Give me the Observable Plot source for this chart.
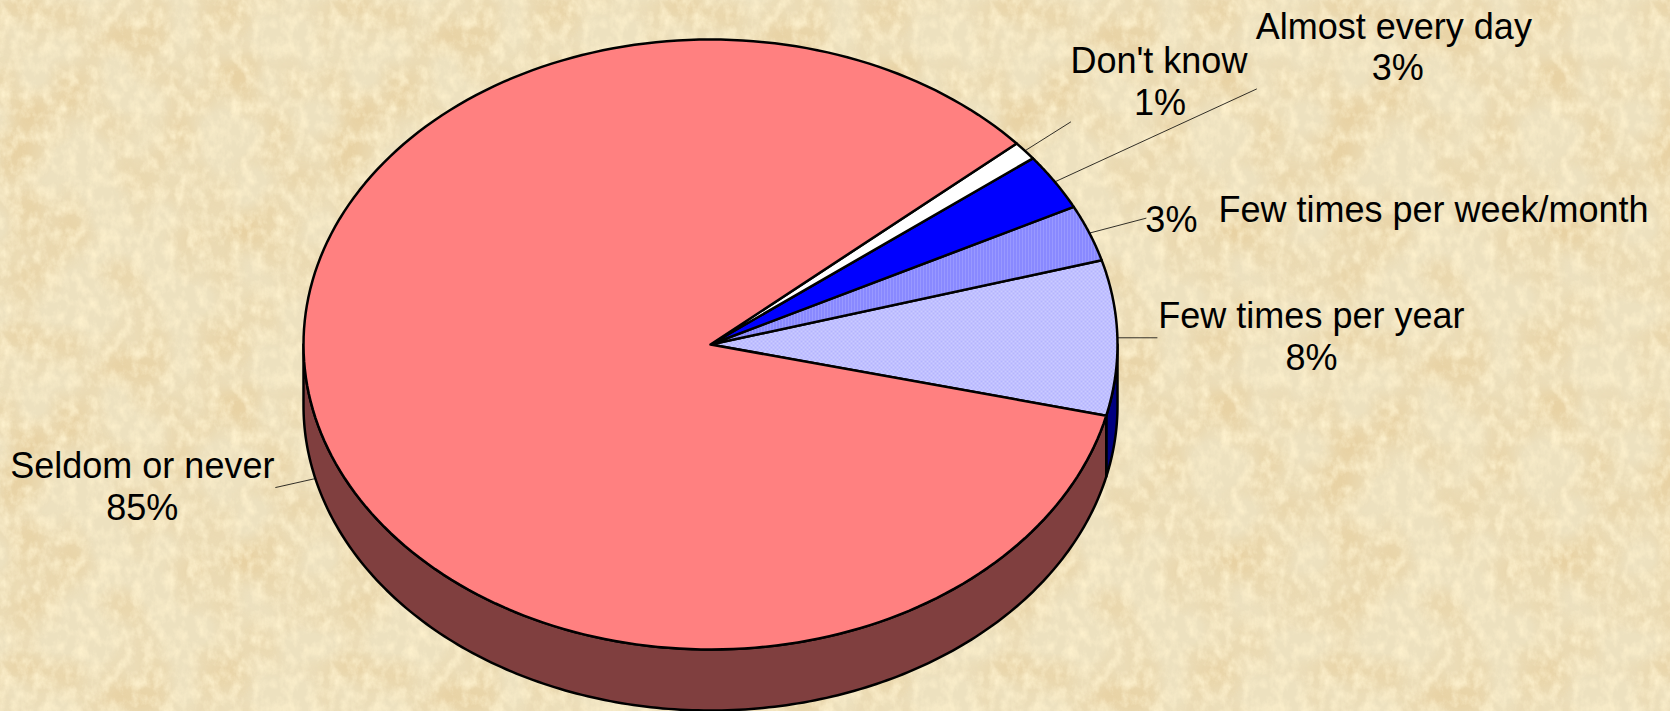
<!DOCTYPE html>
<html>
<head>
<meta charset="utf-8">
<script src="https://cdn.jsdelivr.net/npm/d3@7"></script>
<script src="https://cdn.jsdelivr.net/npm/@observablehq/plot@0.6"></script>
<style>
html,body{margin:0;padding:0;width:1670px;height:711px;overflow:hidden;background:#EFE3C2;}
#texture{position:absolute;left:0;top:0;width:1670px;height:711px;}
#chart{position:absolute;left:0;top:0;}
svg{display:block;background:transparent !important;}
</style>
</head>
<body>
<div id="texture"></div>
<div id="chart"></div>
<script>
// ---- data ----
const categories = ["Few times per year", "Few times per week/month", "Almost every day", "Don't know", "Seldom or never"];
const shares = [8.2, 3.0, 3.0, 1.0, 84.8];

// ---- style and layout ----
const fills = ["url(#dotsLight)", "url(#stripes)", "#0000FF", "#FFFFFF", "#FF8080"];
const sideFills = ["#000080", "#4C4C80", "#000080", "#808080", "#803F3F"];
const startAngle = -13.5;   // degrees, where the first slice begins
const depth = 0.2;          // thickness of the disc, in y units
const W = 1670, H = 711, cx = 710, cy = 344, rx = 407, ry = 305;
const leaderDx = [40, 57, 202, 46, -40];
const leaderDy = [0, -15, -93, -29, 9];
const nameOffsets = [[194, -21], [129, -23], [339, -154], [134, -89], [-173, -12]];
const valueOffsets = [[194, 21], [82, -13], [343, -113], [135, -47], [-173, 30]];
const nameAnchors = ["middle", "start", "middle", "middle", "middle"];

// ---- slice geometry from the shares ----
const rad = d => d * Math.PI / 180;
let acc = startAngle;
const slices = categories.map((name, i) => {
  const a0 = acc, a1 = acc + shares[i] * 3.6;
  acc = a1;
  const mid = (a0 + a1) / 2;
  return {name, i, a0, a1, mid, share: Math.round(shares[i])};
});
const arc = (a0, a1, dy = 0) => d3.range(0, 201).map(k => {
  const a = rad(a0 + (a1 - a0) * k / 200);
  return {x: Math.cos(a), y: Math.sin(a) - dy};
});
const topPath = s => [{x: 0, y: 0}, ...arc(s.a0, s.a1), {x: 0, y: 0}];

// the part of each slice's rim facing the viewer (angles 180..360)
const visibleRim = s => {
  const lo = Math.max(s.a0, 180), hi = Math.min(s.a1, 360);
  const parts = [];
  if (hi > lo) parts.push([lo, hi]);
  const lo2 = Math.max(s.a0, -180), hi2 = Math.min(s.a1, 0);
  if (hi2 > lo2) parts.push([lo2, hi2]);
  return parts;
};
const sidePaths = slices.flatMap(s => visibleRim(s).map(([a, b]) => {
  const top = arc(a, b);
  return {fill: sideFills[s.i], points: [...top, ...arc(b, a, depth), top[0]]};
}));

// leader lines start on the rim at the mid angle of each slice
const anchorOf = s => {
  const a = rad(s.mid), x = Math.cos(a), y = Math.sin(a);
  return {x, y: y < 0 ? y - depth : y};
};
const sx = rx, sy = ry;
const leaders = slices.map(s => {
  const p = anchorOf(s);
  return {x1: p.x, y1: p.y, x2: p.x + leaderDx[s.i] / sx, y2: p.y - leaderDy[s.i] / sy};
});

const fontFamily = "'Liberation Sans', Arial, sans-serif";
const textMarks = slices.flatMap(s => {
  const p = anchorOf(s);
  return [
    Plot.text([p], {x: "x", y: "y", text: () => s.name, dx: nameOffsets[s.i][0], dy: nameOffsets[s.i][1],
      textAnchor: nameAnchors[s.i], fontSize: 36, fill: "#000"}),
    Plot.text([p], {x: "x", y: "y", text: () => s.share + "%", dx: valueOffsets[s.i][0], dy: valueOffsets[s.i][1],
      textAnchor: "middle", fontSize: 36, fill: "#000"})
  ];
});

const defsMark = () => {
  const ns = "http://www.w3.org/2000/svg";
  const g = document.createElementNS(ns, "defs");
  g.innerHTML = `
    <pattern id="stripes" width="3" height="3" patternUnits="userSpaceOnUse">
      <rect width="3" height="3" fill="#9999FF"/><rect width="1" height="3" fill="#7878FF"/>
    </pattern>
    <pattern id="dotsLight" width="4" height="4" patternUnits="userSpaceOnUse">
      <rect width="4" height="4" fill="#CCCCFF"/>
      <rect width="2" height="2" fill="#B4B4FF"/><rect x="2" y="2" width="2" height="2" fill="#B4B4FF"/>
    </pattern>`;
  return g;
};

const chart = Plot.plot({
  width: W, height: H,
  margin: 0,
  x: {domain: [-1, 1], range: [cx - rx, cx + rx], axis: null},
  y: {domain: [-1, 1], range: [cy + ry, cy - ry], axis: null},
  style: {fontFamily, background: "transparent"},
  marks: [
    defsMark,
    Plot.link(leaders, {x1: "x1", y1: "y1", x2: "x2", y2: "y2", stroke: "#000", strokeWidth: 0.8}),
    ...sidePaths.map(p => Plot.line(p.points, {x: "x", y: "y", curve: "linear", fill: p.fill, stroke: "#000", strokeWidth: 2.5})),
    ...slices.map(s => Plot.line(topPath(s), {x: "x", y: "y", curve: "linear", fill: fills[s.i], stroke: "#000", strokeWidth: 2.5})),
    ...textMarks
  ]
});
document.getElementById("chart").appendChild(chart);

// parchment background: a seamless 330px tile
const tile = `<svg xmlns="http://www.w3.org/2000/svg" width="330" height="330">
<filter id="f" x="0" y="0" width="100%" height="100%" color-interpolation-filters="sRGB">
<feTurbulence type="fractalNoise" baseFrequency="0.014" numOctaves="2" seed="7" stitchTiles="stitch" result="low"/>
<feColorMatrix in="low" type="matrix" values="0 0 0 0 0.90  0 0 0 0 0.79  0 0 0 0 0.58  1.8 0 0 0 -0.72" result="blot"/>
<feTurbulence type="fractalNoise" baseFrequency="0.09 0.07" numOctaves="4" seed="3" stitchTiles="stitch" result="hi"/>
<feColorMatrix in="hi" type="matrix" values="0 0 0 0 0.99  0 0 0 0 0.94  0 0 0 0 0.80  2 0 0 0 -0.78" result="light"/>
<feMerge><feMergeNode in="blot"/><feMergeNode in="light"/></feMerge>
</filter>
<rect width="330" height="330" fill="#EDE1BF"/>
<rect width="330" height="330" filter="url(#f)"/>
</svg>`;
document.getElementById("texture").style.background = `url("data:image/svg+xml,${encodeURIComponent(tile)}") repeat`;
</script>
</body>
</html>
